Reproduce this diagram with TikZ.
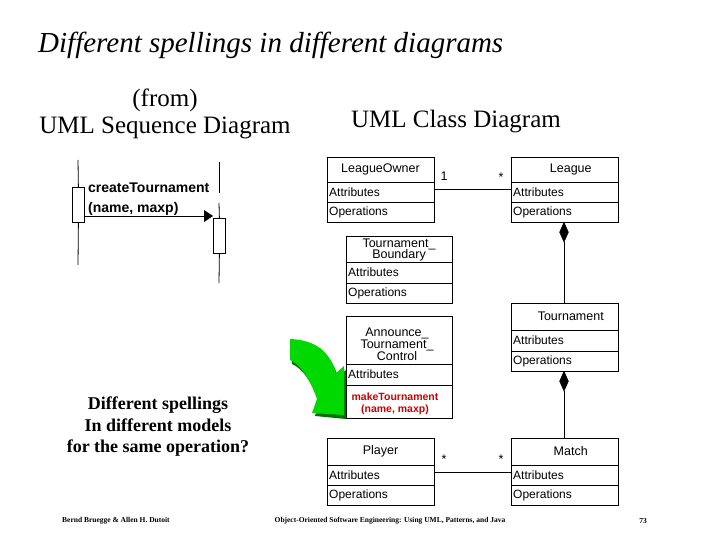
\documentclass[tikz,border=0pt]{standalone}
\usepackage{fontspec}
\setmainfont{Liberation Serif}
\setsansfont{Liberation Sans}
\usetikzlibrary{shapes.geometric}
\begin{document}
\begin{tikzpicture}[x=1pt,y=-1pt,
  box/.style={draw,line width=0.8pt,anchor=north west,inner sep=0pt},
  ctext/.style={font=\sffamily\fontsize{12}{12}\selectfont,anchor=west,inner sep=0pt},
  ttext/.style={font=\sffamily\fontsize{12.5}{13}\selectfont,inner sep=0pt,align=center},
  ln/.style={line width=0.8pt},
  dia/.style={diamond,fill=black,draw,inner sep=0pt,minimum width=9pt,minimum height=20pt,anchor=north}]
\useasboundingbox (0,0) rectangle (720,540);
\fill[white] (0,0) rectangle (720,540);
\newcommand\umlcls[8]{%
  \node[box,minimum width=#3-#2,minimum height=#7-#4] (#1) at (#2,#4) {};
  \draw[ln] (#2,#5) -- (#3,#5) (#2,#6) -- (#3,#6);
  \node[ctext] (#1a) at (#2+2,{(#5+#6)/2}) {Attributes};
  \node[ttext] (#1t) at ({(#2+#3)/2},{(#4+#5)/2}) {#8};
}
\umlcls{lo}{327}{434}{157}{182}{202}{222}{LeagueOwner}
\node[ctext] (loo) at (329,212) {Operations};
\umlcls{lg}{511}{618}{157}{182}{202}{222}{\quad League}
\node[ctext] (lgo) at (513,212) {Operations};
\umlcls{tb}{346}{452}{236}{262}{283}{303}{}
\node[ttext] (tbt) at (399,250) {Tournament\_\\[-2pt]Boundary};
\node[ctext] (tbo) at (348,293) {Operations};
\umlcls{ac}{346}{452}{316}{364}{385}{418}{}
\node[ttext] (act) at (397,344) {Announce\_\\[-1pt]Tournament\_\\[-1pt]Control};
\node[font=\sffamily\bfseries\fontsize{10.5}{12}\selectfont,text=red!80!black,align=center,inner sep=0pt] (mk) at (395,404) {makeTournament\\(name, maxp)};
\umlcls{tn}{511}{618}{303}{330}{351}{371}{\quad Tournament}
\node[ctext] (tno) at (513,361) {Operations};
\umlcls{pl}{327}{434}{438}{465}{485}{505}{Player}
\node[ctext] (plo) at (329,495) {Operations};
\umlcls{mt}{511}{618}{438}{465}{485}{505}{\quad Match}
\node[ctext] (mto) at (513,495) {Operations};
\draw[ln] (lo.east|-0,189) -- (lg.west|-0,189);
\draw[ln] (pl.east|-0,472) -- (mt.west|-0,472);
\node[ttext] (m1) at (444,176) {1};
\node[ttext] (m2) at (501,177) {*};
\node[ttext] (m3) at (444,459) {*};
\node[ttext] (m4) at (501,459) {*};
\node[dia] (d1) at (564,222) {};
\draw[ln] (d1.south) -- (tn.north-|d1);
\node[dia] (d2) at (564,371) {};
\draw[ln] (d2.south) -- (mt.north-|d2);
% sequence diagram
\node[box,minimum width=12,minimum height=35] (a1) at (72,187) {};
\node[box,minimum width=12,minimum height=35] (a2) at (213,218) {};
\coordinate (l1t) at (78,160); \coordinate (l1b) at (78,265);
\draw[ln] (l1t) -- (a1.north); \draw[ln] (a1.south) -- (l1b);
\coordinate (l2t) at (219,162); \coordinate (l2m) at (219,193); \coordinate (l2n) at (219,203); \coordinate (l2b) at (219,283);
\draw[ln] (l2t) -- (l2m); \draw[ln] (l2n) -- (a2.north); \draw[ln] (a2.south) -- (l2b);
\draw[ln] (a1.east|-0,216) -- (206,216);
\fill (204,210) -- (213,216) -- (204,222) -- cycle;
\node[font=\sffamily\bfseries\fontsize{14}{20}\selectfont,anchor=north west,align=left,inner sep=0pt] (msg) at (88,183) {createTournament\\(name, maxp)};
% green arrow
\fill[green!45!black] (292,343) .. controls (318,344) and (332,356) .. (338,377) -- (346,370) -- (346,419) -- (315,416) -- (319,402) .. controls (312,382) and (302,368) .. (292,364) -- cycle;
\fill[green!85!black] (290,339) .. controls (316,340) and (330,352) .. (336,373) -- (344,366) -- (344,415) -- (312,413) -- (317,399) .. controls (310,379) and (300,364) .. (290,360) -- cycle;
% texts
\node[font=\itshape\fontsize{29}{29}\selectfont,anchor=west,inner sep=0pt] (title) at (38,45) {Different spellings in different diagrams};
\node[font=\fontsize{25}{25}\selectfont,inner sep=0pt] (from) at (165,100) {(from)};
\node[font=\fontsize{25}{25}\selectfont,inner sep=0pt] (seq) at (165,128) {UML Sequence Diagram};
\node[font=\fontsize{25}{25}\selectfont,inner sep=0pt] (cls) at (456,122) {UML Class Diagram};
\node[font=\bfseries\fontsize{18}{21.5}\selectfont,align=center,inner sep=0pt] (q) at (158,427) {Different spellings\\In different models\\for the same operation?};
\node[font=\bfseries\fontsize{7.5}{7.5}\selectfont,anchor=west,inner sep=0pt] (f1) at (62,521) {Bernd Bruegge \& Allen H. Dutoit};
\node[font=\bfseries\fontsize{7.5}{7.5}\selectfont,inner sep=0pt] (f2) at (390,521) {Object-Oriented Software Engineering: Using UML, Patterns, and Java};
\node[font=\bfseries\fontsize{7.5}{7.5}\selectfont,inner sep=0pt] (f3) at (643,521) {73};
\end{tikzpicture}
\end{document}
